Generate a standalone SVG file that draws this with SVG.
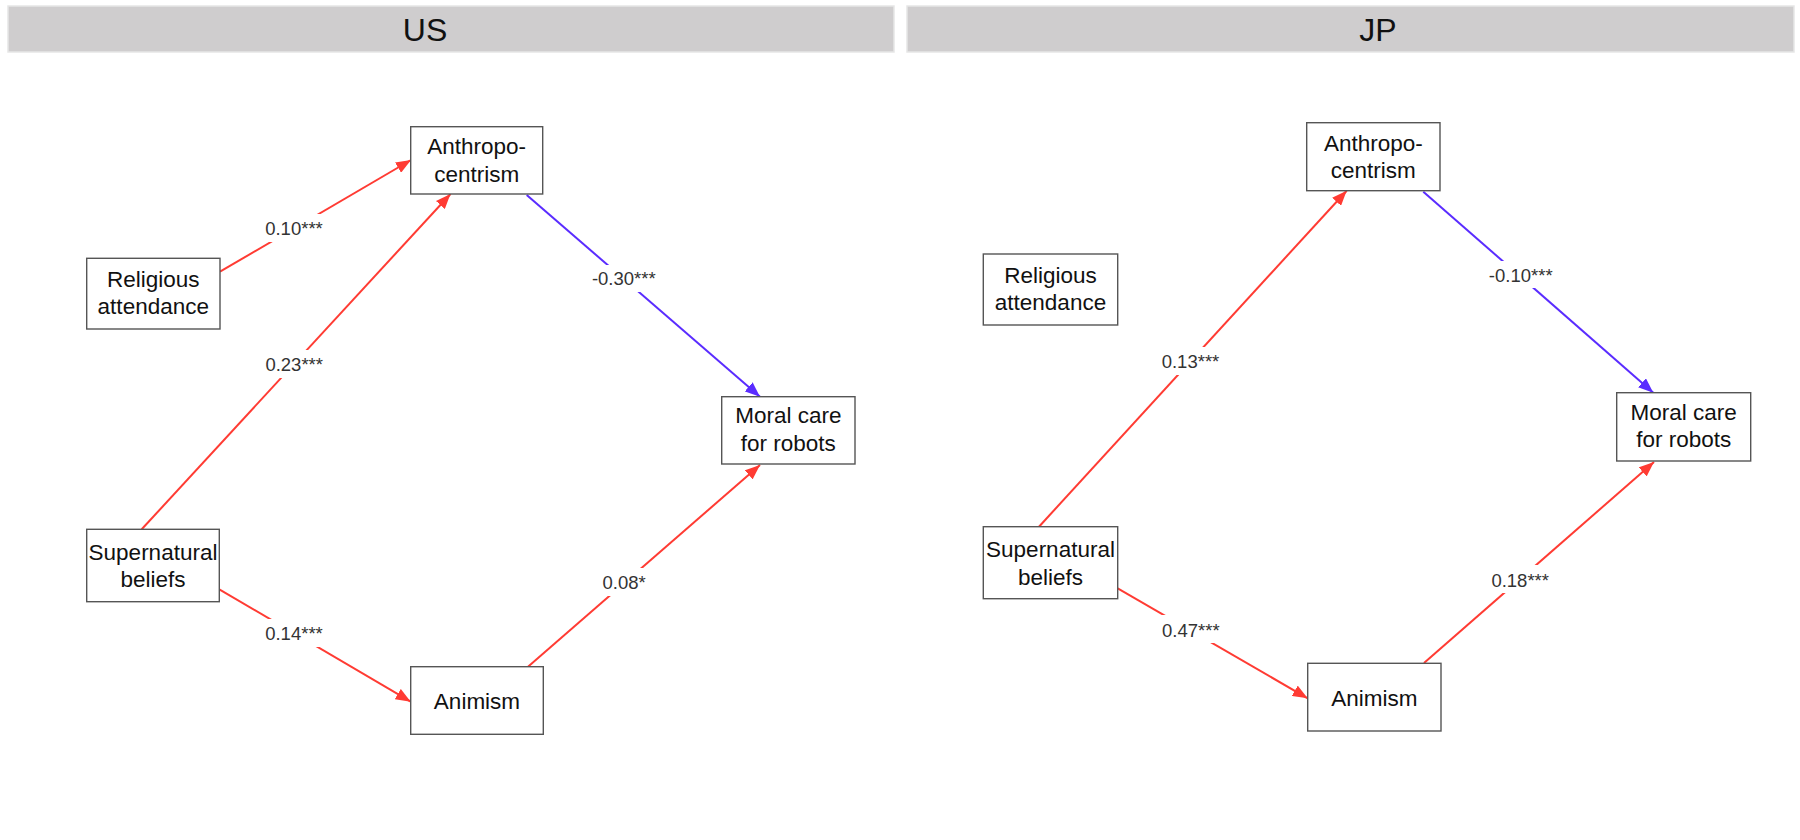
<svg xmlns="http://www.w3.org/2000/svg" width="1800" height="840" viewBox="0 0 1800 840">
  <style>
    .strip { fill: #cfcdce; stroke: #e6e6e6; stroke-width: 1.5; }
    .strip-title { font-family: "Liberation Sans", Arial, sans-serif; font-size: 32px; fill: #111; text-anchor: middle; }
    .node rect { fill: #fff; stroke: #555; stroke-width: 1.4; }
    .node text { font-family: "Liberation Sans", Arial, sans-serif; font-size: 22.5px; fill: #111; text-anchor: middle; }
    .pos { stroke: #ff3b33; stroke-width: 2; fill: none; }
    .neg { stroke: #5a2cff; stroke-width: 2; fill: none; }
    .lbl rect { fill: #fff; }
    .lbl text { font-family: "Liberation Sans", Arial, sans-serif; font-size: 18.5px; fill: #333; text-anchor: middle; }
  </style>
  <defs>
    <marker id="arrow-pos" markerUnits="userSpaceOnUse" markerWidth="16" markerHeight="12" refX="15" refY="6" orient="auto">
      <path d="M0,0 L15,6 L0,12 Z" fill="#ff3b33"/>
    </marker>
    <marker id="arrow-neg" markerUnits="userSpaceOnUse" markerWidth="16" markerHeight="12" refX="15" refY="6" orient="auto">
      <path d="M0,0 L15,6 L0,12 Z" fill="#5a2cff"/>
    </marker>
  </defs>

  <rect width="1800" height="840" fill="#fff"/>

  <!-- panel strips -->
  <g id="strip-us">
    <rect class="strip" x="8" y="6" width="886" height="46"/>
    <text class="strip-title" x="425" y="41">US</text>
  </g>
  <g id="strip-jp">
    <rect class="strip" x="907" y="6" width="887" height="46"/>
    <text class="strip-title" x="1378" y="41">JP</text>
  </g>

  <!-- paths -->
  <g id="connectors">
    <!-- US -->
    <line class="pos" x1="220" y1="271.7" x2="411" y2="160" marker-end="url(#arrow-pos)"/>
    <line class="pos" x1="141.7" y1="529.3" x2="450.5" y2="194" marker-end="url(#arrow-pos)"/>
    <line class="pos" x1="219.3" y1="589.3" x2="410.7" y2="701.7" marker-end="url(#arrow-pos)"/>
    <line class="neg" x1="526.7" y1="195" x2="760" y2="396.7" marker-end="url(#arrow-neg)"/>
    <line class="pos" x1="528" y1="666.7" x2="760" y2="465" marker-end="url(#arrow-pos)"/>
    <!-- JP -->
    <line class="pos" x1="1039" y1="526.7" x2="1346.7" y2="190.7" marker-end="url(#arrow-pos)"/>
    <line class="pos" x1="1117.7" y1="588.3" x2="1307.7" y2="698.3" marker-end="url(#arrow-pos)"/>
    <line class="neg" x1="1423.3" y1="191.7" x2="1653.3" y2="392.7" marker-end="url(#arrow-neg)"/>
    <line class="pos" x1="1424" y1="663" x2="1654" y2="462" marker-end="url(#arrow-pos)"/>

    <!-- coefficient labels -->
    <g class="lbl">
      <rect x="265" y="214" width="58" height="28"/><text x="294" y="235">0.10***</text>
      <rect x="265" y="350" width="58" height="28"/><text x="294.2" y="371">0.23***</text>
      <rect x="265" y="619" width="58" height="28"/><text x="294" y="640">0.14***</text>
      <rect x="591" y="265" width="66" height="27"/><text x="623.8" y="285">-0.30***</text>
      <rect x="602" y="568" width="45" height="28"/><text x="624.2" y="589.3">0.08*</text>
      <rect x="1161" y="347" width="59" height="28"/><text x="1190.5" y="368.3">0.13***</text>
      <rect x="1161" y="615" width="59" height="28"/><text x="1190.8" y="636.7">0.47***</text>
      <rect x="1487" y="261" width="67" height="27"/><text x="1520.7" y="281.7">-0.10***</text>
      <rect x="1491" y="565" width="59" height="28"/><text x="1520.2" y="586.7">0.18***</text>
    </g>
  </g>

  <!-- US nodes -->
  <g id="us-anthropocentrism" class="node">
    <rect x="410.7" y="126.7" width="132" height="67.3"/>
    <text x="476.7" y="154.3">Anthropo-</text>
    <text x="476.7" y="181.7">centrism</text>
  </g>
  <g id="us-religious-attendance" class="node">
    <rect x="86.7" y="258.3" width="133.3" height="70.7"/>
    <text x="153.3" y="286.7">Religious</text>
    <text x="153.3" y="314.3">attendance</text>
  </g>
  <g id="us-supernatural-beliefs" class="node">
    <rect x="86.7" y="529.3" width="132.6" height="72.4"/>
    <text x="153" y="560">Supernatural</text>
    <text x="153" y="587.3">beliefs</text>
  </g>
  <g id="us-animism" class="node">
    <rect x="410.7" y="666.7" width="132.6" height="67.6"/>
    <text x="477" y="709">Animism</text>
  </g>
  <g id="us-moral-care" class="node">
    <rect x="721.7" y="396.7" width="133.3" height="67.3"/>
    <text x="788.3" y="423.3">Moral care</text>
    <text x="788.3" y="451">for robots</text>
  </g>

  <!-- JP nodes -->
  <g id="jp-anthropocentrism" class="node">
    <rect x="1306.7" y="122.7" width="133.3" height="68"/>
    <text x="1373.3" y="150.5">Anthropo-</text>
    <text x="1373.3" y="178">centrism</text>
  </g>
  <g id="jp-religious-attendance" class="node">
    <rect x="983.3" y="254" width="134.4" height="71"/>
    <text x="1050.5" y="282.5">Religious</text>
    <text x="1050.5" y="310">attendance</text>
  </g>
  <g id="jp-supernatural-beliefs" class="node">
    <rect x="983.3" y="526.7" width="134.4" height="72"/>
    <text x="1050.5" y="557">Supernatural</text>
    <text x="1050.5" y="584.5">beliefs</text>
  </g>
  <g id="jp-animism" class="node">
    <rect x="1307.7" y="663.3" width="133.3" height="67.7"/>
    <text x="1374.3" y="705.5">Animism</text>
  </g>
  <g id="jp-moral-care" class="node">
    <rect x="1616.7" y="392.7" width="134" height="68.3"/>
    <text x="1683.7" y="419.5">Moral care</text>
    <text x="1683.7" y="447">for robots</text>
  </g>
</svg>
